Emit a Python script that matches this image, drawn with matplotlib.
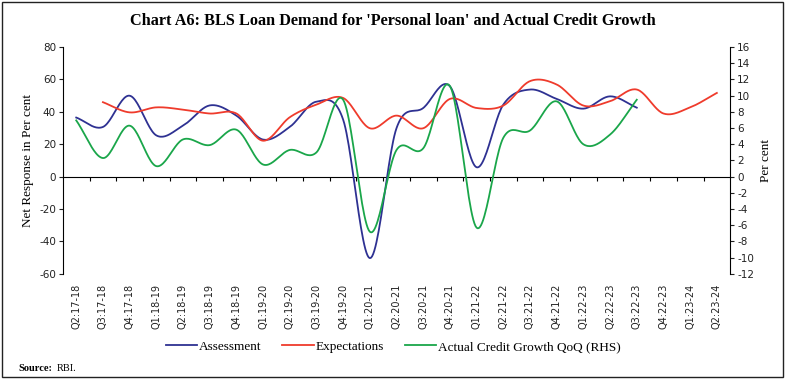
import numpy as np
import matplotlib.pyplot as plt
from matplotlib.patches import Rectangle

plt.rcParams['font.family'] = 'DejaVu Sans'
plt.rcParams['axes.unicode_minus'] = False

quarters = ['Q2:17-18', 'Q3:17-18', 'Q4:17-18', 'Q1:18-19', 'Q2:18-19', 'Q3:18-19',
            'Q4:18-19', 'Q1:19-20', 'Q2:19-20', 'Q3:19-20', 'Q4:19-20', 'Q1:20-21',
            'Q2:20-21', 'Q3:20-21', 'Q4:20-21', 'Q1:21-22', 'Q2:21-22', 'Q3:21-22',
            'Q4:21-22', 'Q1:22-23', 'Q2:22-23', 'Q3:22-23', 'Q4:22-23', 'Q1:23-24',
            'Q2:23-24']

# assessment: Q2:17-18 .. Q3:22-23
assessment = [36.5, 30.7, 50.0, 25.5, 31.5, 44.0, 37.7, 22.9, 30.7, 46.3, 35.2, -50.3,
              30.0, 42.4, 55.8, 5.8, 44.5, 53.8, 48.0, 42.0, 49.6, 42.6]
# expectations: Q3:17-18 .. Q2:23-24
expectations = [46.0, 39.7, 42.8, 41.4, 39.0, 39.0, 22.2, 36.7, 44.5, 48.6, 29.9,
                37.7, 29.9, 48.0, 42.4, 43.9, 59.0, 56.9, 43.9, 46.6, 53.8, 39.0,
                42.8, 51.7]
# actual credit growth QoQ (RHS): Q2:17-18 .. Q3:22-23
credit_growth = [6.95, 2.3, 6.3, 1.3, 4.6, 3.9, 5.8, 1.5, 3.3, 3.0, 9.5, -6.8,
                 3.3, 3.5, 11.2, -6.3, 4.8, 5.7, 9.3, 4.0, 5.2, 9.5]


def smooth(x, y, n=24):
    # catmull-rom spline through the points (like excel's smoothed line)
    x = np.asarray(x, float)
    y = np.asarray(y, float)
    px = np.concatenate([[2 * x[0] - x[1]], x, [2 * x[-1] - x[-2]]])
    py = np.concatenate([[2 * y[0] - y[1]], y, [2 * y[-1] - y[-2]]])
    t = np.linspace(0, 1, n, endpoint=False)
    xs, ys = [], []
    for i in range(1, len(px) - 2):
        for p, out in ((px, xs), (py, ys)):
            p0, p1, p2, p3 = p[i - 1], p[i], p[i + 1], p[i + 2]
            out.extend(0.5 * (2 * p1 + (-p0 + p2) * t
                              + (2 * p0 - 5 * p1 + 4 * p2 - p3) * t ** 2
                              + (-p0 + 3 * p1 - 3 * p2 + p3) * t ** 3))
    xs.append(x[-1])
    ys.append(y[-1])
    return np.array(xs), np.array(ys)


fig = plt.figure(figsize=(7.86, 3.83), dpi=100)
ax = fig.add_axes([0.080, 0.285, 0.849, 0.592])
ax2 = ax.twinx()

x_all = np.arange(len(quarters))
xa, ya = smooth(x_all[:len(assessment)], assessment)
xe, ye = smooth(x_all[1:1 + len(expectations)], expectations)
xc, yc = smooth(x_all[:len(credit_growth)], credit_growth)

blue, red, green = '#2E3192', '#EF3B2C', '#1AA64A'
l1, = ax.plot(xa, ya, color=blue, lw=1.3)
l2, = ax.plot(xe, ye, color=red, lw=1.3)
l3, = ax2.plot(xc, yc, color=green, lw=1.3)

ax.set_xlim(-0.5, len(quarters) - 0.5)
ax.set_ylim(-60, 80)
ax.set_yticks(range(-60, 81, 20))
ax2.set_ylim(-12, 16)
ax2.set_yticks(range(-12, 17, 2))

for a in (ax, ax2):
    a.spines['top'].set_visible(False)
    a.spines['bottom'].set_visible(False)
    a.tick_params(axis='y', labelsize=7.5, length=3, width=0.8, pad=2, colors='#222222')
ax.spines['right'].set_visible(False)
ax.spines['left'].set_linewidth(0.8)
ax2.spines['left'].set_visible(False)
ax2.spines['right'].set_linewidth(0.8)

ax.set_xticks(x_all)
ax.set_xticklabels(quarters, rotation=90, fontsize=7, color='#222222')
ax.tick_params(axis='x', length=0, pad=7)

# zero line with category separators
zero = ax.secondary_xaxis(60 / 140)
zero.set_xticks(np.arange(0.5, len(quarters) - 1, 1.0))
zero.set_xticklabels([])
zero.tick_params(axis='x', direction='out', length=3, width=0.8)
zero.spines['bottom'].set_linewidth(0.8)

ax.set_ylabel('Net Response in Per cent', family='Liberation Serif', fontsize=9.5, labelpad=4)
ax2.set_ylabel('Per cent', family='Liberation Serif', fontsize=9.5, labelpad=4)

fig.text(0.5, 0.945, "Chart A6: BLS Loan Demand for 'Personal loan' and Actual Credit Growth",
         ha='center', va='center', family='Liberation Serif', fontweight='bold', fontsize=11.7)

fig.legend([l1, l2, l3], ['Assessment', 'Expectations', 'Actual Credit Growth QoQ (RHS)'],
           loc='center', bbox_to_anchor=(0.5, 0.094), ncol=3, frameon=False,
           prop={'family': 'Liberation Serif', 'size': 9.5}, handlelength=2.4,
           handletextpad=0.1, columnspacing=1.6)

fig.text(0.023, 0.038, 'Source:', family='Liberation Serif', fontweight='bold', fontsize=7.5, va='center')
fig.text(0.072, 0.038, 'RBI.', family='Liberation Serif', fontsize=7.5, va='center')

fig.patches.append(Rectangle((0.003, 0.015), 0.993, 0.98, transform=fig.transFigure,
                             fill=False, edgecolor='#222222', linewidth=1.0))

plt.savefig('out.png', dpi=100)
